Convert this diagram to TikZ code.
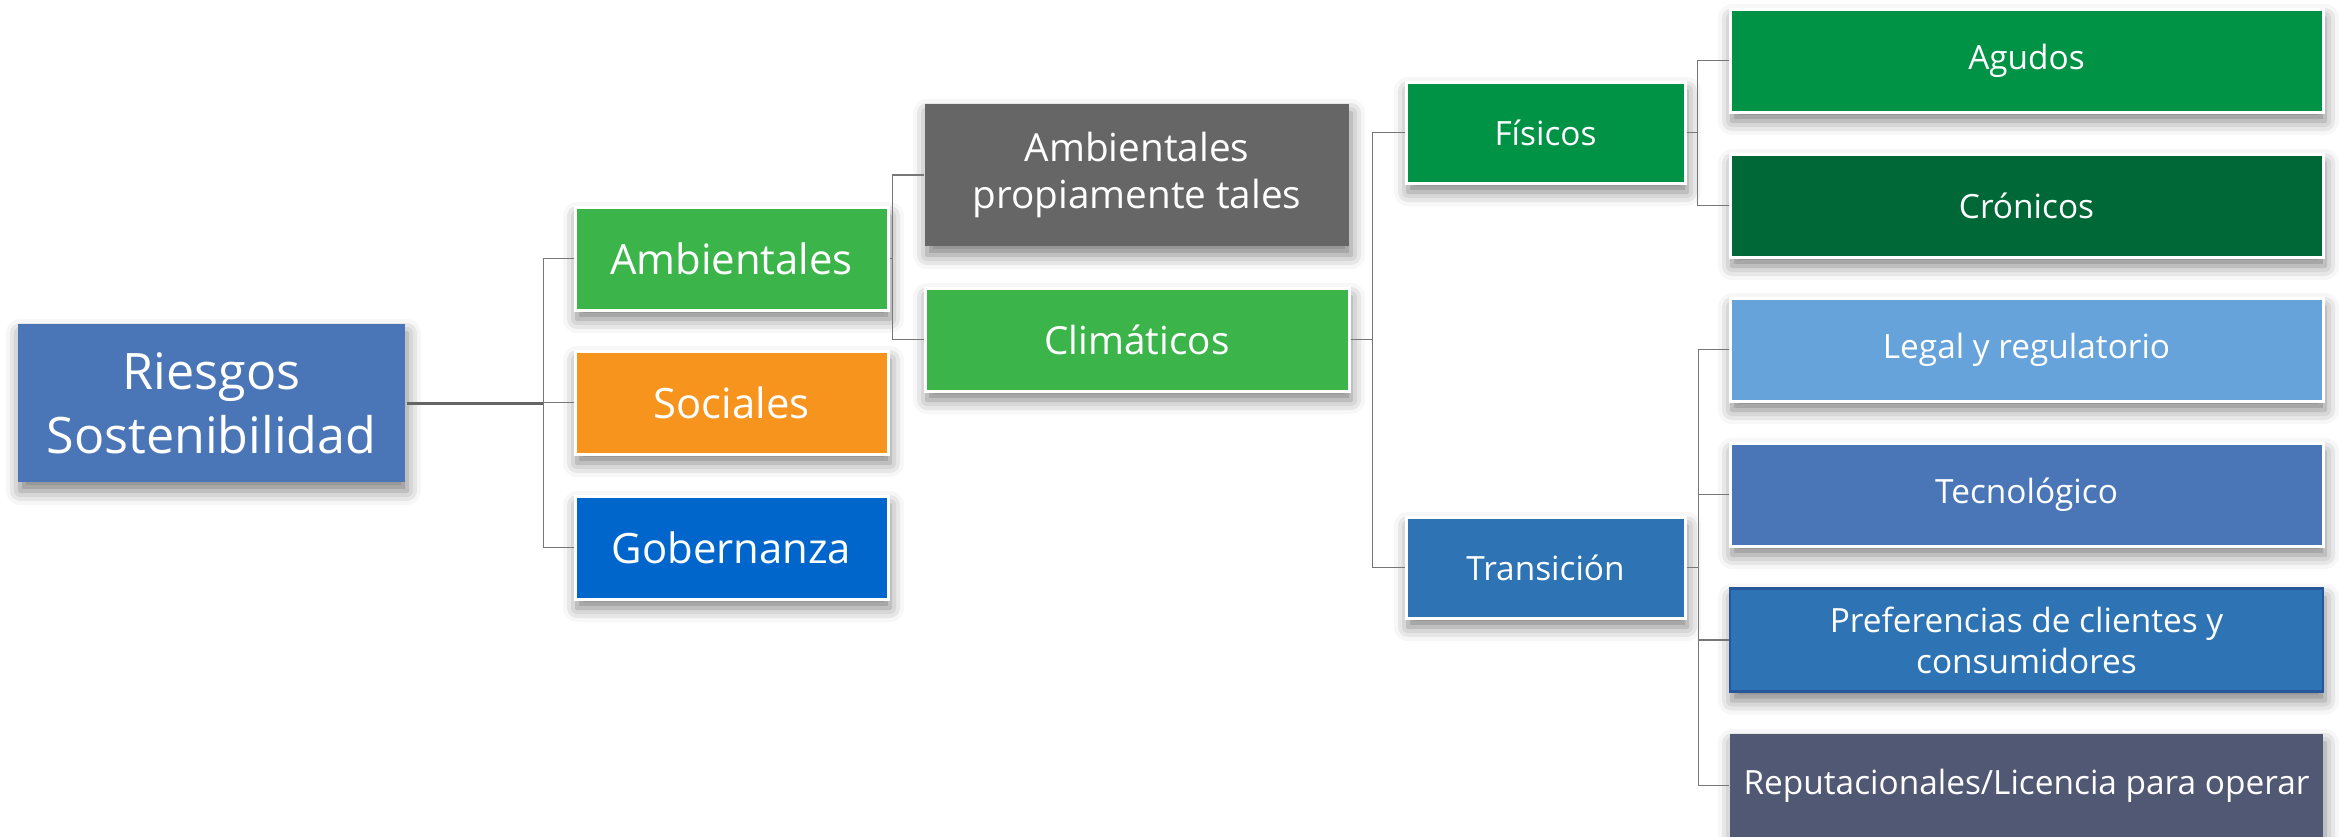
\documentclass[tikz,border=0pt]{standalone}
\usepackage{fontspec}
\setmainfont{Open Sans}
\usetikzlibrary{shadows.blur}
\definecolor{rootblue}{HTML}{4A76B8}
\definecolor{leafgreen}{HTML}{3BB54A}
\definecolor{socorange}{HTML}{F7941E}
\definecolor{gobblue}{HTML}{0066CC}
\definecolor{propgray}{HTML}{666666}
\definecolor{fisgreen}{HTML}{009245}
\definecolor{crongreen}{HTML}{006837}
\definecolor{legalblue}{HTML}{66A3DB}
\definecolor{transblue}{HTML}{2E74B5}
\definecolor{prefborder}{HTML}{26579A}
\definecolor{repslate}{HTML}{515873}
\definecolor{linegray}{HTML}{777777}
\begin{document}
\begin{tikzpicture}[
    box/.style={draw=white,line width=0.85pt,text=white,align=center,inner sep=0pt,
      blur shadow={shadow xshift=0.02cm,shadow yshift=-0.09cm,shadow blur radius=0.14cm,shadow opacity=50}},
    lvlone/.style={box,minimum width=3.13cm,minimum height=1.03cm,font=\fontsize{11.9}{14}\selectfont},
    lvltwo/.style={box,minimum width=4.24cm,minimum height=1.03cm,font=\fontsize{11}{13.3}\selectfont},
    lvlthree/.style={box,minimum width=2.79cm,minimum height=1.01cm,font=\fontsize{9.5}{11.7}\selectfont},
    lvlfour/.style={box,minimum width=5.93cm,minimum height=1.03cm,font=\fontsize{9.5}{11.7}\selectfont},
    link/.style={draw=linegray,line width=0.55pt},
  ]
  \useasboundingbox (0,0) rectangle (23.39,-8.36);
  %% Root
  \node[box,draw=none,fill=rootblue,minimum width=3.87cm,minimum height=1.58cm,font=\fontsize{14.3}{18.2}\selectfont] (R) at (2.115,-4.03) {Riesgos\\Sostenibilidad};
  %% ESG
  \node[lvlone,fill=leafgreen] (Amb) at (7.315,-2.585) {Ambientales};
  \node[lvlone,fill=socorange] (Soc) at (7.315,-4.025) {Sociales};
  \node[lvlone,fill=gobblue] (Gob) at (7.315,-5.475) {Gobernanza};
  %% Ambientales
  \node[lvltwo,draw=none,fill=propgray,minimum height=1.42cm] (Prop) at (11.37,-1.75) {Ambientales\\propiamente tales};
  \node[lvltwo,fill=leafgreen] (Clim) at (11.37,-3.395) {Climáticos};
  %% Climaticos
  \node[lvlthree,fill=fisgreen] (Fis) at (15.455,-1.325) {Físicos};
  \node[lvlthree,fill=transblue] (Tra) at (15.455,-5.675) {Transición};
  %% Fisicos
  \node[lvlfour,fill=fisgreen] (Agu) at (20.265,-0.605) {Agudos};
  \node[lvlfour,fill=crongreen] (Cro) at (20.265,-2.055) {Crónicos};
  %% Transicion
  \node[lvlfour,fill=legalblue] (Leg) at (20.265,-3.495) {Legal y regulatorio};
  \node[lvlfour,fill=rootblue] (Tec) at (20.265,-4.945) {Tecnológico};
  \node[lvlfour,fill=transblue,draw=prefborder,line width=0.6pt] (Pref) at (20.265,-6.40) {Preferencias de clientes y\\consumidores};
  \node[lvlfour,draw=none,fill=repslate] (Rep) at (20.265,-7.855) {Reputacionales/Licencia para operar};
  %% Lines
  \draw[link,line width=0.85pt,draw=linegray!85!black] (R.east) -- ++(1.37,0) coordinate (b0);
  \draw[link] (b0) |- (Amb.west);
  \draw[link] (b0) |- (Soc.west);
  \draw[link] (b0) |- (Gob.west);
  \draw[link] (Amb.east) -- ++(0.03,0) coordinate (b1);
  \draw[link] (b1) |- (Prop.west);
  \draw[link] (b1) |- (Clim.west);
  \draw[link] (Clim.east) -- ++(0.22,0) coordinate (b2);
  \draw[link] (b2) |- (Fis.west);
  \draw[link] (b2) |- (Tra.west);
  \draw[link] (Fis.east) -- ++(0.11,0) coordinate (b3);
  \draw[link] (b3) |- (Agu.west);
  \draw[link] (b3) |- (Cro.west);
  \draw[link] (Tra.east) -- ++(0.12,0) coordinate (b4);
  \draw[link] (b4) |- (Leg.west);
  \draw[link] (b4) |- (Tec.west);
  \draw[link] (b4) |- (Pref.west);
  \draw[link] (b4) |- (Rep.west);
\end{tikzpicture}
\end{document}
